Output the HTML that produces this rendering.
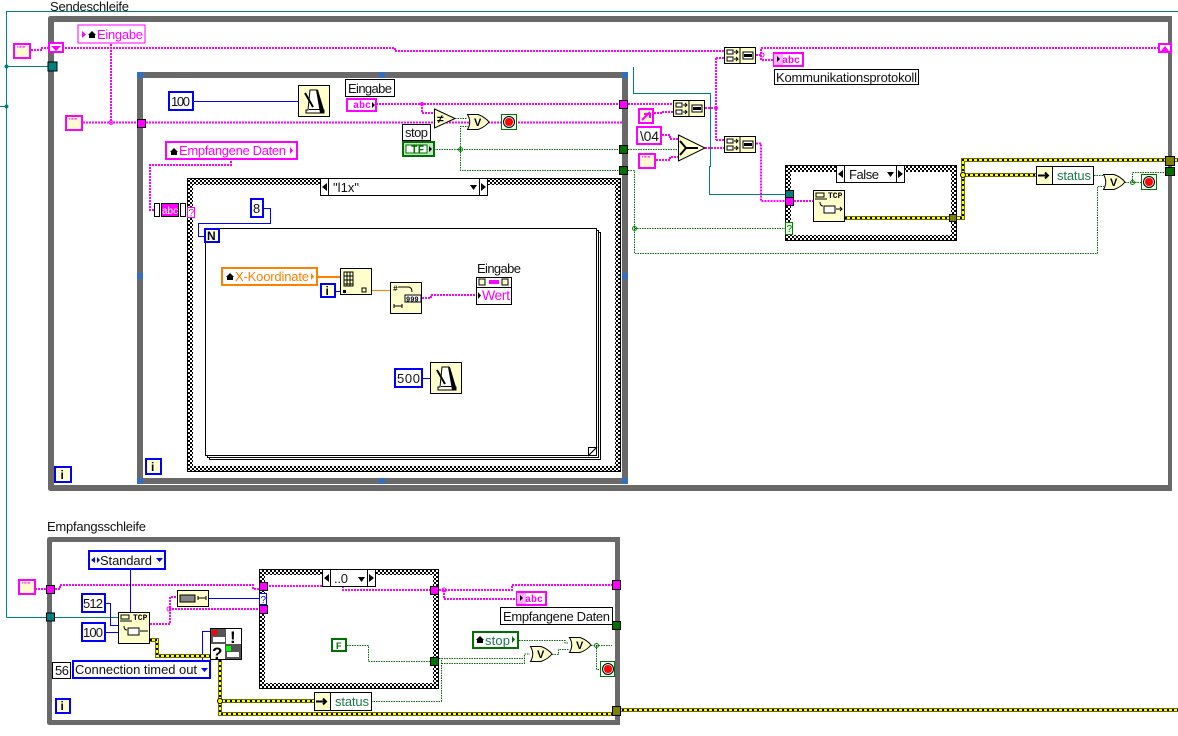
<!DOCTYPE html>
<html><head><meta charset="utf-8"><title>Blockdiagramm</title>
<style>
html,body{margin:0;padding:0;background:#fff;width:1178px;height:736px;overflow:hidden}
svg{display:block}
text{font-family:"Liberation Sans",sans-serif;font-size:13px;fill:#111}
.w{fill:none}
.p{fill:none;stroke:#f0f;stroke-width:2;stroke-dasharray:2 1}
.g{fill:none;stroke:#006a00;stroke-width:1;stroke-dasharray:1.5 1;shape-rendering:crispEdges}
.b{fill:none;stroke:#0000ff;stroke-width:1;shape-rendering:crispEdges}
.t{fill:none;stroke:#007f7f;stroke-width:1;shape-rendering:crispEdges}
.o{fill:none;stroke:#ff7f00}
.e1{fill:none;stroke:#6f6f00;stroke-width:4;shape-rendering:crispEdges}
.e2{fill:none;stroke:#ff0;stroke-width:2;shape-rendering:crispEdges}
.e3{fill:none;stroke:#000;stroke-width:2;stroke-dasharray:2 3;shape-rendering:crispEdges}
.c{fill:#ffffcc;stroke:#000;stroke-width:1;shape-rendering:crispEdges}
.wb{fill:#fff;stroke:#000;stroke-width:1;shape-rendering:crispEdges}
.ps{fill:#fffbd0;stroke:#f0f;stroke-width:2;shape-rendering:crispEdges}
.pw{fill:#fff;stroke:#f0f;stroke-width:2;shape-rendering:crispEdges}
.bl{fill:#fff;stroke:#0000ff;stroke-width:2;shape-rendering:crispEdges}
.gy{fill:#696969;shape-rendering:crispEdges}
.bq{fill:#2f6fc4;shape-rendering:crispEdges}
.tp{fill:#f0f;stroke:#000;shape-rendering:crispEdges}
.tt{fill:#007f7f;stroke:#000;shape-rendering:crispEdges}
.tg{fill:#007000;stroke:#000;shape-rendering:crispEdges}
.te{fill:#7f7f00;stroke:#000;shape-rendering:crispEdges}
.h{fill:url(#hatch);shape-rendering:crispEdges}
.hl{fill:none;stroke:#000;shape-rendering:crispEdges}
.tcp{font-family:"Liberation Mono",monospace;font-size:8px;font-weight:bold;fill:#000}
.abc{font-family:"Liberation Mono",monospace;font-size:10px;font-weight:bold;fill:#f0f}
.vv{font-size:11px;font-weight:bold;fill:#000}
</style></head><body>
<svg width="1178" height="736" viewBox="0 0 1178 736" xmlns="http://www.w3.org/2000/svg">
<defs>
<pattern id="hatch" width="4" height="4" patternUnits="userSpaceOnUse">
<rect width="4" height="4" fill="#fff"/><rect width="2" height="2" fill="#000"/><rect x="2" y="2" width="2" height="2" fill="#000"/>
</pattern>
<g id="wait">
<rect x=".5" y=".5" width="31" height="31" class="c"/>
<path d="M12 5h7l5 20h2v3H8v-3h2z" fill="#fff" stroke="#000"/>
<path d="M18 5h2l6 20v3h-4z" fill="#000"/>
<path d="M7 8l8 14" stroke="#000" stroke-width="2"/>
<rect x="11" y="24" width="12" height="1" fill="#000"/>
</g>
<g id="conc">
<rect x=".5" y=".5" width="31" height="16" class="c"/>
<path d="M16 .5v16" stroke="#000"/>
<rect x="3" y="3" width="6" height="4" fill="#fff" stroke="#000"/>
<rect x="3" y="10" width="6" height="4" fill="#fff" stroke="#000"/>
<path d="M10 5h4m-2-2l2 2-2 2M10 12h4m-2-2l2 2-2 2" stroke="#000" fill="none"/>
<rect x="19" y="5" width="10" height="7" fill="#fff" stroke="#000"/>
<rect x="20" y="7" width="8" height="3" fill="#000"/>
</g>
<g id="stp">
<rect x=".5" y=".5" width="15" height="15" fill="#f2fff2" stroke="#007000" shape-rendering="crispEdges"/>
<circle cx="8" cy="8" r="5.500" fill="#ddd" stroke="#000"/>
<circle cx="8" cy="8" r="4" fill="#f00"/>
</g>
<g id="orr">
<path d="M.5 .5H11Q18 3 22 8Q18 13 11 15.500H.5Q5 8 .5 .5Z" class="c" style="shape-rendering:auto"/>
</g>
<path id="err1" d="M845 218H963V160H1178M963 175H1037"/>
<path id="err2" d="M150 640H157V656H210M220 660V714H612M220 701H314M617 710H1178"/>
</defs>

<!-- Top teal -->
<path class="t" d="M0 106.500H6.500M6.500 617.500V11.500H1178M6.500 66.500H50M6.500 617.500H120"/>
<circle cx="6.500" cy="66.500" r="2" fill="#007f7f"/><circle cx="6.500" cy="106.500" r="2" fill="#007f7f"/>

<text x="50" y="11" textLength="79">Sendeschleife</text>

<!-- Outer loop -->
<path class="gy" d="M51 16H1172V491H51Q48 491 48 488V19Q48 16 51 16ZM54 22V485H1168V22Z" fill-rule="evenodd"/>
<!-- Inner loop -->
<path class="gy" d="M137 72H628V484H137ZM143 78V478H622V78Z" fill-rule="evenodd"/>
<g class="bq">
<rect x="137" y="72" width="6" height="6"/><rect x="379" y="72" width="6" height="6"/><rect x="622" y="72" width="6" height="6"/>
<rect x="137" y="273" width="6" height="6"/><rect x="622" y="273" width="6" height="6"/>
<rect x="137" y="478" width="6" height="6"/><rect x="379" y="478" width="6" height="6"/><rect x="622" y="478" width="6" height="6"/>
</g>

<!-- Case l1x -->
<path class="h" fill-rule="evenodd" d="M187 178H621V472H187ZM193 185V466H615V185Z"/>
<rect x="187.500" y="178.500" width="433" height="293" class="hl"/>
<rect x="320.500" y="178.500" width="8" height="17" class="wb"/><rect x="328.500" y="178.500" width="151" height="17" class="wb"/><rect x="479.500" y="178.500" width="8" height="17" class="wb"/>
<path d="M327 183v8l-5-4zM481 183v8l5-4zM470 185h7l-3.500 5z" fill="#000"/>
<text x="333" y="192" textLength="26">"l1x"</text>

<!-- For loop -->
<rect x="209.500" y="232.500" width="391" height="227" class="wb"/>
<rect x="207.500" y="230.500" width="391" height="227" class="wb"/>
<rect x="205.500" y="228.500" width="391" height="227" class="wb"/>
<path d="M588.500 455.500V447.500H596.500Z" fill="#fff" stroke="#000"/>
<path d="M588.500 455.500L596.500 447.500" stroke="#000"/>

<!-- Wires pink -->
<path class="p" d="M31 50H41V48H64H395V51H724"/>
<path class="p" d="M111 44V122M83 122.500H622"/>
<path class="p" d="M376 104H622M422 104V113H434M140 122.500H434"/>
<path class="p" d="M628 104H673M654 113H662V112H673M662 135H670V139H678M656 160H670V157H678"/>
<path class="p" d="M705 108H716M716 58V140M716 58H724M716 140H724M705 148H724"/>
<path class="p" d="M756 55H761V48H1158M761 55V60H773M756 143.500H761V201H786"/>
<path class="p" d="M231 161V165H150V210H155M187 210H190"/>
<path class="p" d="M422 298H431V295H476"/>
<path class="p" d="M794 201H813"/>
<path class="p" d="M35 589H46M55 589H60V585H253V589H260M439 590H512V585H612M444 590V599H516"/>
<path class="p" d="M150 624H170V597H177M169 609H259"/>

<!-- green -->
<path class="g" d="M434 149.500H619M628 149.500H678M460.500 149.500V126.500H468M455 118.500H467M460.500 149.500V170.500H619M628 170.500H634.500V253.500H1097.500V186.500H1104M634.500 228.500H785M1094 175.500H1103M1125 182.500H1141M1132.500 182.500V172.500H1165"/>
<path class="g" d="M439 658.500H524.500V654H530M441.500 701.500V658.500M441.500 663.500H524.500V658M371 701.500H441.500M519 640.500H565V643H569M552 654.500H558.500V649.500H569M591 645.500H612M596.500 645.500V669.500H600"/>
<circle cx="460.500" cy="149.500" r="2" fill="none" stroke="#008000"/>
<circle cx="634.500" cy="228.500" r="2" fill="none" stroke="#008000"/>
<circle cx="1132.500" cy="182.500" r="2" fill="none" stroke="#008000"/>
<circle cx="596.500" cy="645.500" r="2" fill="none" stroke="#008000"/>

<!-- Teal mid -->
<path class="t" d="M633.500 67V93.500H710.500V166.500H709.500V194.500H785M55 617.500H118"/>

<!-- Blue wires -->
<path class="b" d="M193 101.500H298M263 208.500H270.500V223.500H198.500V236.500H205M336 291.500H340M422 378.500H430"/>
<path class="b" d="M130.500 570V612M105 603.500H110.500V625.500H118M105 632.500H118M209 598.500H259M202.500 660V631.500H210"/>

<!-- Orange -->
<path class="o" stroke-width="2" d="M318 277H340"/>
<path class="o" stroke-width="1" d="M372 290.500H390"/>

<!-- Errors -->
<use href="#err1" class="e1"/><use href="#err1" class="e2"/><use href="#err1" class="e3"/>
<use href="#err2" class="e1"/><use href="#err2" class="e2"/><use href="#err2" class="e3"/>
<circle cx="963" cy="175" r="2.500" fill="#ff0" stroke="#000"/>
<circle cx="220" cy="701" r="2.500" fill="#ff0" stroke="#000"/>

<!-- Dots pink -->
<circle cx="111" cy="122.500" r="2" fill="none" stroke="#f0f"/><circle cx="422" cy="104" r="2" fill="#f0f"/>
<circle cx="716" cy="108" r="2" fill="#f0f"/><circle cx="762" cy="55" r="2" fill="none" stroke="#f0f"/>
<circle cx="169" cy="609" r="2" fill="none" stroke="#f0f"/><circle cx="444" cy="590" r="2" fill="none" stroke="#f0f"/>

<!-- Upper left -->
<rect x="14" y="44" width="16" height="14" class="ps"/><text x="17" y="52" style="font-size:8px;fill:#f0f">"""</text>
<rect x="49" y="43" width="14" height="9" fill="#fff" stroke="#f0f" stroke-width="2" shape-rendering="crispEdges"/><path d="M51 46h10l-5 5z" fill="#f0f"/>
<rect x="78" y="25" width="67" height="18" fill="#fff" stroke="#f0f" shape-rendering="crispEdges"/>
<path d="M82 31v7l4-3.500z" fill="#f0f"/><path d="M88 35l4-4 4 4h-1v3h-6v-3z" fill="#000"/>
<text x="97" y="39" textLength="46" style="fill:#f0f">Eingabe</text>
<rect x="66" y="116" width="16" height="14" class="ps"/><text x="69" y="124" style="font-size:8px;fill:#f0f">"""</text>
<rect x="48" y="62" width="9" height="9" class="tt"/>
<rect x="137.500" y="119.500" width="8" height="8" class="tp"/>

<!-- 100 + wait -->
<rect x="169" y="92" width="24" height="18" class="bl"/><text x="171" y="106" textLength="19">100</text>
<use href="#wait" x="298" y="85"/>
<rect x="345.500" y="79.500" width="49" height="17" class="wb"/><text x="348" y="93" textLength="44">Eingabe</text>
<rect x="347" y="99" width="29" height="12" fill="#fff" stroke="#f0f" stroke-width="2" shape-rendering="crispEdges"/>
<text x="353" y="108" class="abc" textLength="18">abc</text><path d="M372 102v6l3-3z" fill="#000"/>

<path d="M434.500 109L455 118.500L434.500 128Z" class="c" style="shape-rendering:auto"/>
<text x="437" y="123" class="vv" style="font-size:12px">≠</text>
<use href="#orr" x="467" y="114"/><text x="474" y="126" class="vv">V</text>
<use href="#stp" x="501" y="114"/>
<rect x="402.500" y="124.500" width="28" height="16" class="wb"/><text x="405" y="137" textLength="23">stop</text>
<rect x="403" y="142" width="31" height="14" fill="#bfe6bf" stroke="#007000" stroke-width="2" shape-rendering="crispEdges"/>
<rect x="406" y="145" width="21" height="8" fill="#fff" stroke="#007000"/>
<text x="411" y="153" style="font-family:'Liberation Mono',monospace;font-size:11px;font-weight:bold;fill:#007000">TF</text>
<path d="M429 146v6l3-3z" fill="#000"/>
<rect x="619.500" y="100.500" width="8" height="8" class="tp"/>
<rect x="619.500" y="145.500" width="8" height="8" class="tg"/>
<rect x="619.500" y="166.500" width="8" height="8" class="tg"/>

<!-- Empfangene Daten local -->
<rect x="166" y="142" width="131" height="17" fill="#fff" stroke="#f0f" stroke-width="2" shape-rendering="crispEdges"/>
<path d="M170 152l4-4 4 4h-1v3h-6v-3z" fill="#000"/>
<text x="179" y="155" textLength="107" style="fill:#f0f">Empfangene Daten</text><path d="M290 147v7l3-3.500z" fill="#f0f"/>
<rect x="154.500" y="203.500" width="5" height="13" class="wb"/>
<rect x="161.500" y="203.500" width="17" height="13" fill="#f0f" stroke="#000" shape-rendering="crispEdges"/>
<text x="162" y="214" style="font-size:10px;fill:#fff">abc</text>
<rect x="180.500" y="203.500" width="5" height="13" class="wb"/>
<rect x="187.500" y="207.500" width="7" height="10" fill="#fff" stroke="#f0f" shape-rendering="crispEdges"/>
<text x="188.500" y="216" style="font-size:10px;fill:#f0f">?</text>

<!-- For loop contents -->
<rect x="251" y="199" width="12" height="18" class="bl"/><text x="253" y="213" textLength="8">8</text>
<rect x="205" y="229" width="14" height="13" fill="#ffffcc" stroke="#0000ff" stroke-width="2" shape-rendering="crispEdges"/>
<text x="207" y="240" style="font-size:12px;font-weight:bold;fill:#003">N</text>
<rect x="222" y="268" width="95" height="17" fill="#fff" stroke="#ff7f00" stroke-width="2" shape-rendering="crispEdges"/>
<path d="M226 277l4-4 4 4h-1v3h-6v-3z" fill="#000"/>
<text x="235" y="281" textLength="74" style="fill:#ff7f00">X-Koordinate</text><path d="M311 273v7l3-3.500z" fill="#ff7f00"/>
<rect x="340.500" y="268.500" width="31" height="26" class="c"/>
<path d="M344 272h9v14h-9zM347 272v14M350 272v14M344 276h9M344 280h9M344 284h9" stroke="#000" fill="none"/>
<rect x="343" y="290" width="3" height="3" fill="#000"/><rect x="362" y="288" width="4" height="4" fill="none" stroke="#000"/>
<rect x="321" y="284" width="14" height="13" fill="#ffffcc" stroke="#0000ff" stroke-width="2" shape-rendering="crispEdges"/>
<text x="325.500" y="295" style="font-size:12px;font-weight:bold;fill:#003">i</text>
<rect x="390.500" y="282.500" width="31" height="31" class="c"/>
<rect x="405" y="295" width="16" height="7" fill="#fff" stroke="#000"/><text x="406" y="301.500" class="tcp" style="font-size:7px">999</text>
<path d="M398 287h10q4 0 4 5M394 306h8M394 304v4M402 304v4" stroke="#000" fill="none"/><text x="393" y="291" class="tcp">#</text>
<text x="477" y="273" textLength="44">Eingabe</text>
<rect x="476.500" y="277.500" width="35" height="27" class="wb"/>
<path d="M476.500 287.500H511.500" stroke="#000" shape-rendering="crispEdges"/>
<rect x="489" y="280" width="10" height="4" fill="#f0f"/>
<rect x="479" y="279" width="6" height="6" fill="#ffffcc" stroke="#000"/><rect x="502" y="279" width="6" height="6" fill="#ffffcc" stroke="#000"/>
<path d="M478 292v7l3-3.500z" fill="#000"/>
<text x="482" y="300" textLength="28" style="fill:#f0f;font-size:14px">Wert</text>
<rect x="395" y="369" width="27" height="18" class="bl"/><text x="397" y="383" textLength="23">500</text>
<use href="#wait" x="430" y="362"/>

<!-- Right of inner loop -->
<use href="#conc" x="673" y="100"/>
<rect x="639" y="109" width="14" height="14" class="ps"/><path d="M642 120l8-8M644 114h6v4" stroke="#f0f" stroke-width="2" fill="none"/>
<rect x="637" y="127" width="24" height="17" class="pw"/><text x="640" y="141" textLength="19" style="font-size:14px">\04</text>
<rect x="639" y="154" width="16" height="14" class="ps"/><text x="642" y="162" style="font-size:8px;fill:#f0f">"""</text>
<path d="M678.500 135L705 148L678.500 161Z" class="c" style="shape-rendering:auto"/>
<path d="M680 141l6 7-6 7M686 148h12" stroke="#000" stroke-width="2" fill="none"/>
<use href="#conc" x="724" y="47"/><use href="#conc" x="724" y="136"/>
<rect x="774" y="53" width="29" height="13" fill="#fff" stroke="#f0f" stroke-width="2" shape-rendering="crispEdges"/>
<rect x="774" y="54" width="9" height="11" fill="#ffb0ff"/><path d="M777 56v6l3-3z" fill="#000"/>
<text x="782" y="63" class="abc" textLength="18">abc</text>
<rect x="774.500" y="69.500" width="144" height="15" class="wb"/><text x="776" y="82" textLength="141">Kommunikationsprotokoll</text>

<!-- Right up terminal -->
<rect x="1159" y="44" width="12" height="8" fill="#fff" stroke="#f0f" stroke-width="2" shape-rendering="crispEdges"/><path d="M1161 51h8l-4-5z" fill="#f0f"/>

<!-- Case False -->
<path class="h" fill-rule="evenodd" d="M785 165H957V241H785ZM791 172V235H951V172Z"/>
<rect x="785.500" y="165.500" width="171" height="75" class="hl"/>
<rect x="836.500" y="165.500" width="8" height="17" class="wb"/><rect x="844.500" y="165.500" width="52" height="17" class="wb"/><rect x="896.500" y="165.500" width="8" height="17" class="wb"/>
<path d="M843 170v8l-5-4zM898 170v8l5-4zM887 172h7l-3.500 5z" fill="#000"/>
<text x="849" y="179" textLength="30">False</text>
<rect x="785.500" y="190.500" width="8" height="8" class="tt"/><rect x="785.500" y="197.500" width="8" height="8" class="tp"/>
<rect x="785.500" y="222.500" width="7" height="12" fill="#e8ffe0" stroke="#008000" shape-rendering="crispEdges"/><text x="786.500" y="232" style="font-size:10px;fill:#007000">?</text>
<rect x="813.500" y="190.500" width="31" height="31" class="c"/>
<text x="828" y="198" class="tcp">TCP</text>
<path d="M816 193h8v4h-8zM815 199h12M820 202q0 4 3 4" stroke="#000" fill="none"/>
<rect x="824" y="206" width="11" height="7" fill="#fff" stroke="#000"/><path d="M836 209h6m-2-2l2 2-2 2" stroke="#000" fill="none"/>
<path class="e1" d="M845 218H950"/><path class="e2" d="M845 218H950"/><path class="e3" d="M845 218H950"/>
<rect x="949.500" y="214.500" width="7" height="7" class="te"/>

<rect x="1036.500" y="166.500" width="16" height="18" class="c"/><rect x="1052.500" y="166.500" width="41" height="18" class="wb"/>
<path d="M1038 175.500h10m-3-3l3 3-3 3" stroke="#000" stroke-width="2" fill="none"/>
<text x="1057" y="180" textLength="34" style="fill:#1a7a4a">status</text>
<use href="#orr" x="1103" y="174"/><text x="1110" y="186" class="vv">V</text>
<use href="#stp" x="1141" y="174"/>
<rect x="1165.500" y="156.500" width="9" height="9" class="te"/>
<rect x="1165.500" y="167.500" width="9" height="8" class="tg"/>

<!-- Bottom loop -->
<text x="47" y="531" textLength="99">Empfangsschleife</text>
<path class="gy" d="M50 537H620V725H50Q47 725 47 722V540Q47 537 50 537ZM52 542V720H615V542Z" fill-rule="evenodd"/>
<rect x="19" y="580" width="16" height="14" class="ps"/><text x="22" y="588" style="font-size:8px;fill:#f0f">"""</text>
<rect x="46.500" y="585.500" width="8" height="8" class="tp"/>
<rect x="46.500" y="613" width="8" height="8" class="tt"/>
<rect x="89" y="551" width="76" height="18" class="bl"/><text x="100" y="565" textLength="52">Standard</text>
<path d="M95 557v6l-4-3zM97 557v6l3-3zM156 558h7l-3.500 4z" fill="#0000ff"/>
<rect x="82" y="594" width="23" height="18" class="bl"/><text x="83" y="608" textLength="20">512</text>
<rect x="82" y="623" width="23" height="18" class="bl"/><text x="83" y="637" textLength="20">100</text>
<rect x="118.500" y="612.500" width="31" height="31" class="c"/>
<text x="133" y="620" class="tcp">TCP</text>
<path d="M121 615h8v4h-8zM120 621h12M124 626q0 4 3 4" stroke="#000" fill="none"/>
<rect x="128" y="628" width="11" height="7" fill="#fff" stroke="#000"/><path d="M140 631h8" stroke="#000"/>
<rect x="177.500" y="590.500" width="31" height="16" class="c"/>
<rect x="180" y="595" width="15" height="7" fill="#888" stroke="#000"/><path d="M198 598h8M198 596v4M206 596v4" stroke="#000" fill="none"/>
<rect x="52.500" y="662.500" width="18" height="16" class="wb"/><text x="55" y="675" textLength="14">56</text>
<rect x="73" y="661" width="137" height="17" class="bl"/><text x="75" y="674" textLength="122">Connection timed out</text><path d="M201 668h7l-3.500 4z" fill="#0000ff"/>
<rect x="210.500" y="628.500" width="31" height="31" class="wb"/>
<rect x="211" y="629" width="15" height="15" fill="#555"/><rect x="212" y="630" width="5" height="5" fill="#f00"/><rect x="213" y="637" width="12" height="5" fill="#fff"/>
<rect x="225" y="644" width="16" height="15" fill="#555"/><rect x="226" y="646" width="5" height="5" fill="#0f0"/><rect x="227" y="652" width="12" height="5" fill="#fff"/>
<text x="230" y="643" style="font-size:17px;font-weight:bold;fill:#000">!</text>
<text x="212" y="659" style="font-size:17px;font-weight:bold;fill:#000">?</text>
<rect x="56" y="699" width="14" height="14" fill="#ffffcc" stroke="#0000ff" stroke-width="2" shape-rendering="crispEdges"/><text x="60.500" y="710" style="font-size:12px;font-weight:bold;fill:#003">i</text>
<rect x="55" y="467" width="16" height="15" fill="#ffffcc" stroke="#0000ff" stroke-width="2" shape-rendering="crispEdges"/><text x="60.500" y="479" style="font-size:12px;font-weight:bold;fill:#003">i</text>
<rect x="146" y="459" width="15" height="15" fill="#ffffcc" stroke="#0000ff" stroke-width="2" shape-rendering="crispEdges"/><text x="151" y="471" style="font-size:12px;font-weight:bold;fill:#003">i</text>

<!-- Case ..0 -->
<path class="h" fill-rule="evenodd" d="M259 569H439V689H259ZM265 575V683H433V575Z"/>
<rect x="259.500" y="569.500" width="179" height="119" class="hl"/>
<path class="p" d="M266 586H322M343 586V590H432"/>
<rect x="322.500" y="569.500" width="8" height="17" class="wb"/><rect x="330.500" y="569.500" width="37" height="17" class="wb"/><rect x="367.500" y="569.500" width="8" height="17" class="wb"/>
<path d="M329 574v8l-5-4zM369 574v8l5-4zM358 577h7l-3.500 5z" fill="#000"/>
<text x="334" y="583" textLength="14">..0</text>
<rect x="259.500" y="582.500" width="8" height="8" class="tp"/><rect x="259.500" y="605.500" width="8" height="8" class="tp"/>
<rect x="259.500" y="593.500" width="7" height="11" fill="#fff" stroke="#0000ff" shape-rendering="crispEdges"/><text x="260.500" y="603" style="font-size:10px;fill:#0000ff">?</text>
<rect x="430.500" y="586.500" width="8" height="8" class="tp"/><rect x="430.500" y="657.500" width="8" height="8" class="tg"/>
<path class="g" d="M347 645.500H368.500V661.500H430"/>
<rect x="332" y="639" width="14" height="12" fill="#fff" stroke="#007000" stroke-width="2" shape-rendering="crispEdges"/>
<text x="336" y="649" style="font-size:9px;font-weight:bold;fill:#007000">F</text>

<rect x="314.500" y="692.500" width="16" height="18" class="c"/><rect x="330.500" y="692.500" width="41" height="18" class="wb"/>
<path d="M316 701.500h10m-3-3l3 3-3 3" stroke="#000" stroke-width="2" fill="none"/>
<text x="335" y="706" textLength="34" style="fill:#1a7a4a">status</text>

<rect x="517" y="592" width="29" height="13" fill="#fff" stroke="#f0f" stroke-width="2" shape-rendering="crispEdges"/>
<rect x="517" y="593" width="9" height="11" fill="#ffb0ff"/><path d="M520 595v6l3-3z" fill="#000"/><text x="525" y="602" class="abc" textLength="18">abc</text>
<rect x="500.500" y="607.500" width="112" height="17" class="wb"/><text x="503" y="621" textLength="107">Empfangene Daten</text>
<rect x="612.500" y="580.500" width="8" height="9" class="tp"/>
<rect x="612.500" y="621.500" width="8" height="8" class="tg"/>
<rect x="473" y="632" width="45" height="16" fill="#fff" stroke="#007000" stroke-width="2" shape-rendering="crispEdges"/>
<path d="M476 640l4-4 4 4h-1v3h-6v-3z" fill="#000"/>
<text x="485" y="645" textLength="25" style="fill:#1a7a4a">stop</text><path d="M512 636v7l3-3.500z" fill="#007000"/>
<use href="#orr" x="530" y="646"/><text x="537" y="658" class="vv">V</text>
<use href="#orr" x="569" y="637"/><text x="576" y="649" class="vv">V</text>
<rect x="600.500" y="661.500" width="14" height="15" fill="#f2fff2" stroke="#007000" shape-rendering="crispEdges"/>
<circle cx="608" cy="669" r="5.500" fill="#ddd" stroke="#000"/><circle cx="608" cy="669" r="4" fill="#f00"/>
<rect x="612.500" y="706.500" width="8" height="9" class="te"/>
</svg>
</body></html>
